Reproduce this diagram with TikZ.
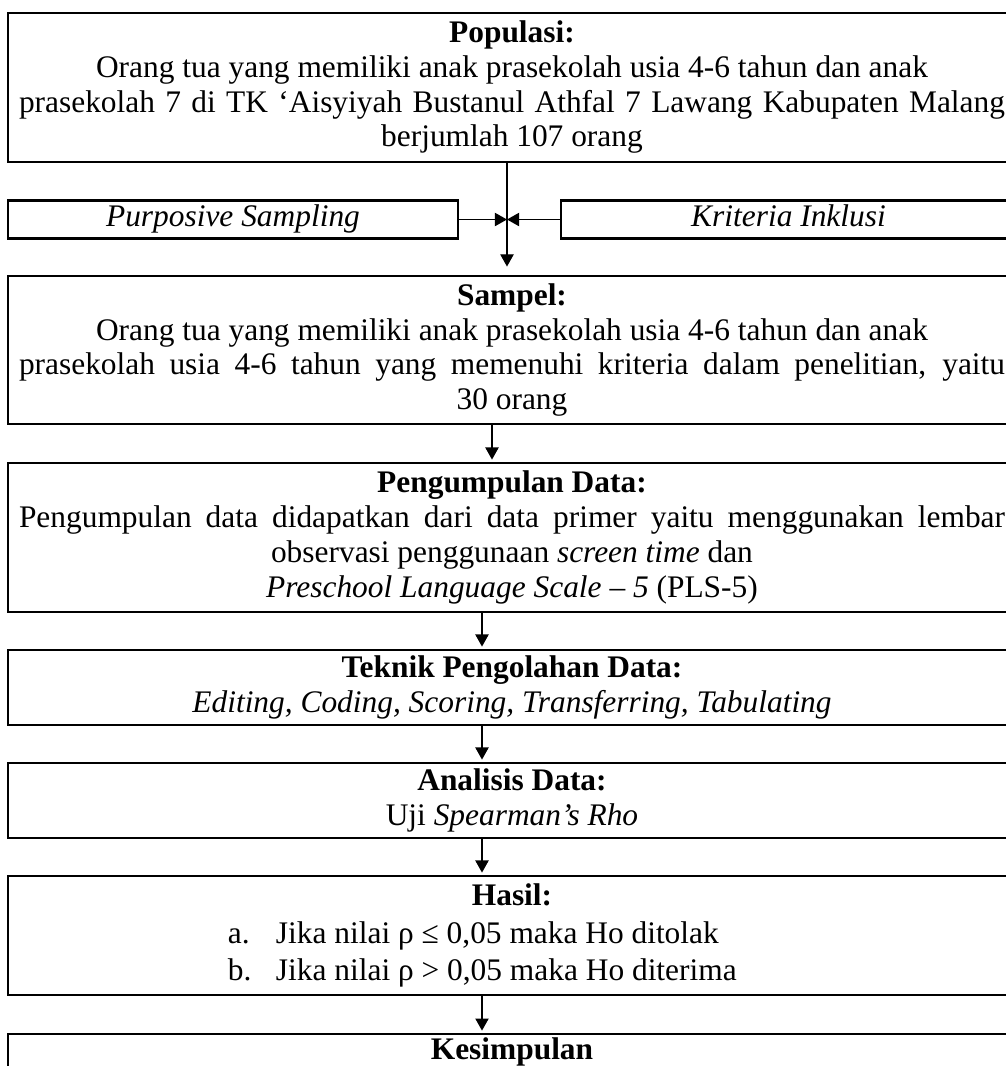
\documentclass[tikz,border=0pt]{standalone}
\usepackage{fontspec}
\setmainfont{Liberation Serif}
\usetikzlibrary{arrows.meta}

\newlength\pxu
\setlength\pxu{0.414pt}
% lines that Word set justified
\newcommand{\fullline}[1]{\makebox[986\pxu][s]{#1}\hspace*{10\pxu}}

\tikzset{
  box/.style={draw, line width=0.85pt, inner sep=0pt, align=center,
    minimum width=1008*\pxu, font=\fontsize{13}{14.4}\selectfont},
  sidebox/.style={draw, line width=0.85pt, inner sep=0pt, align=center,
    minimum height=38*\pxu, text height=8.8pt, text depth=2.7pt,
    font=\fontsize{13}{14.4}\selectfont\itshape},
  arr/.style={-{Triangle[length=5pt,width=5.5pt]}, line width=0.45pt, shorten >=1pt},
}

\begin{document}
\begin{tikzpicture}[x=\pxu, y=-\pxu]

\useasboundingbox (0,0) rectangle (1006,1066);

\node[box, minimum height=149*\pxu] (pop) at (512,87.2)
  {\textbf{Populasi:}\\
   Orang tua yang memiliki anak prasekolah usia 4-6 tahun dan anak\\
   \fullline{prasekolah 7 di TK ‘Aisyiyah Bustanul Athfal 7 Lawang Kabupaten Malang}\\
   berjumlah 107 orang};

\node[sidebox, minimum width=450*\pxu] (purp) at (233,219.5) {Purposive Sampling};
\node[sidebox, minimum width=455*\pxu] (krit) at (788.5,219.5) {Kriteria Inklusi};
\coordinate (meet) at (507,219.5);

\node[box, minimum height=148*\pxu] (sampel) at (512,350)
  {\textbf{Sampel:}\\
   Orang tua yang memiliki anak prasekolah usia 4-6 tahun dan anak\\
   \fullline{prasekolah usia 4-6 tahun yang memenuhi kriteria dalam penelitian, yaitu}\\
   30 orang};

\node[box, minimum height=149*\pxu] (kumpul) at (512,537.5)
  {\textbf{Pengumpulan Data:}\\
   \fullline{Pengumpulan data didapatkan dari data primer yaitu menggunakan lembar}\\
   observasi penggunaan \textit{screen time} dan\\
   \textit{Preschool Language Scale – 5} (PLS-5)};

\node[box, minimum height=75*\pxu] (olah) at (512,687.5)
  {\textbf{Teknik Pengolahan Data:}\\
   \textit{Editing, Coding, Scoring, Transferring, Tabulating}};

\node[box, minimum height=75*\pxu] (analisis) at (512,800.5)
  {\textbf{Analisis Data:}\\
   Uji \textit{Spearman’s Rho}};

\node[box, minimum height=119*\pxu, font=\fontsize{13}{15.5}\selectfont] (hasil) at (512,935.5)
  {\textbf{Hasil:}\\
   \makebox[1008\pxu][l]{\hspace*{220\pxu}\makebox[48\pxu][l]{a.}Jika nilai ρ ≤ 0,05 maka Ho ditolak}\\
   \makebox[1008\pxu][l]{\hspace*{220\pxu}\makebox[48\pxu][l]{b.}Jika nilai ρ > 0,05 maka Ho diterima}};

\node[box, anchor=north, text height=25*\pxu, text depth=60*\pxu] (simpul) at (512,1033)
  {\textbf{Kesimpulan}};

% connectors
\coordinate (colB) at (492,0);
\coordinate (colC) at (482,0);

\draw[arr, shorten >=3.5pt] (pop.south -| meet) -- (sampel.north -| meet);
\draw[arr, shorten >=0pt] (purp.east) -- (meet);
\draw[arr, shorten >=0pt] (krit.west) -- (meet);
\draw[arr] (sampel.south -| colB) -- (kumpul.north -| colB);
\draw[arr] (kumpul.south -| colC) -- (olah.north -| colC);
\draw[arr] (olah.south -| colC) -- (analisis.north -| colC);
\draw[arr] (analisis.south -| colC) -- (hasil.north -| colC);
\draw[arr] (hasil.south -| colC) -- (simpul.north -| colC);

\end{tikzpicture}
\end{document}
